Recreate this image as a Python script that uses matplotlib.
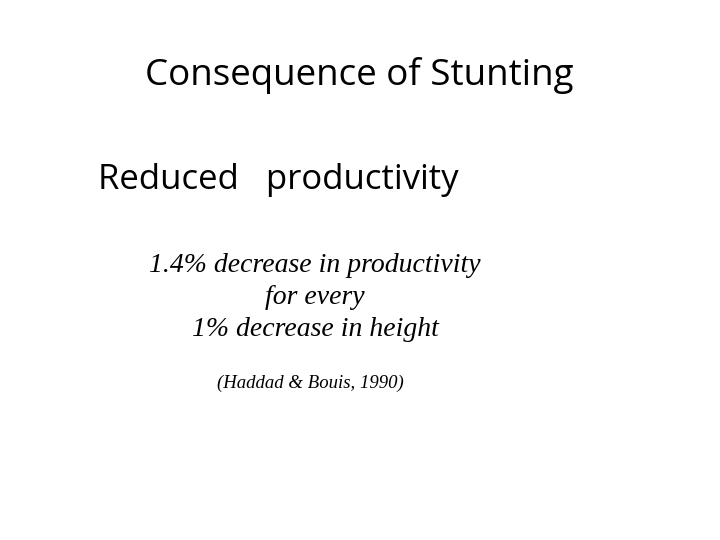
import matplotlib
matplotlib.use("Agg")
import matplotlib.pyplot as plt

title = "Consequence of Stunting"
subtitle = "Reduced   productivity"
body_lines = ["1.4% decrease in productivity", "for every", "1% decrease in height"]
citation = "(Haddad & Bouis, 1990)"

fig = plt.figure(figsize=(7.2, 5.4), dpi=100)
fig.patch.set_facecolor("white")

def px(x, y):
    return x / 720, 1 - y / 540

fig.text(*px(359, 75), title, ha="center", va="center", fontsize=26.5, family="Open Sans")
fig.text(*px(98, 180), subtitle, ha="left", va="center", fontsize=25, family="Open Sans")
for y, line in zip([265, 297, 329], body_lines):
    fig.text(*px(315, y), line, ha="center", va="center", fontsize=20,
             family="Liberation Serif", style="italic")
fig.text(*px(310, 383), citation, ha="center", va="center", fontsize=13.5,
         family="Liberation Serif", style="italic")

fig.savefig("out.png", dpi=100)
